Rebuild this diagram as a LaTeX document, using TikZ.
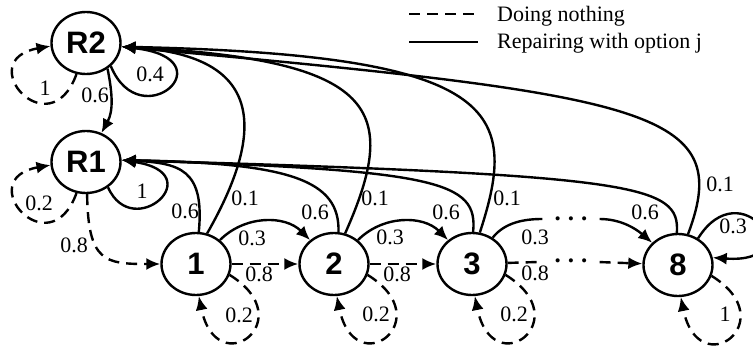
\documentclass[tikz,border=0pt]{standalone}
\usepackage{fontspec}
\setmainfont{Liberation Serif}
\setsansfont{Liberation Sans}
\usetikzlibrary{arrows.meta,shapes.geometric}

\begin{document}
\begin{tikzpicture}[x=1pt,y=-1pt,
  state/.style={ellipse,draw,line width=2.4pt,minimum width=69pt,minimum height=62pt,
    inner sep=0pt,font=\fontsize{31}{31}\selectfont\sffamily\bfseries},
  lbl/.style={inner sep=0pt,font=\fontsize{22}{22}\selectfont},
  dotsnode/.style={inner xsep=12pt,inner ysep=0pt,font=\fontsize{25}{25}\selectfont\bfseries},
  wire/.style={line width=2.4pt},
  tip/.style={-{Latex[length=14pt,width=12pt]}},
  rep/.style={wire,tip},
  idlewire/.style={wire,dash pattern=on 11pt off 7pt},
  idle/.style={idlewire,tip},
]
\path[use as bounding box] (0,0) rectangle (753,350);
\clip (0,0) rectangle (753,350);
\fill[white] (0,0) rectangle (753,350);

% states
\node[state] (R2) at (86,43) {R2};
\node[state] (R1) at (86,162) {R1};
\node[state] (n1) at (196,264) {1};
\node[state] (n2) at (334,264) {2};
\node[state] (n3) at (472,264) {3};
\node[state] (n8) at (678,265) {8};
\node[dotsnode] (d1) at (571,219) {.\hspace{7pt}.\hspace{7pt}.};
\node[dotsnode] (d2) at (571,261) {.\hspace{7pt}.\hspace{7pt}.};

% legend
\coordinate (lgA) at (409,14);
\coordinate (lgB) at (478,14);
\coordinate (lgC) at (409,42);
\coordinate (lgD) at (478,42);
\draw[idlewire] (lgA) -- (lgB);
\draw[wire] (lgC) -- (lgD);
\node[lbl,anchor=base west] (lgT1) at (497,22) {Doing nothing};
\node[lbl,anchor=base west] (lgT2) at (497,49) {Repairing with option j};

% doing nothing
\draw[idle] (R2.253) .. controls +(-27,75) and +(-79,14) .. (R2.185);
\draw[idle] (R1.253) .. controls +(-27,75) and +(-79,14) .. (R1.185);
\draw[idle] (R1.-88) .. controls (88,262) and (105,264) .. (n1);
\draw[idle] (n1) -- (n2);
\draw[idle] (n2) -- (n3);
\draw[idlewire] (n3) -- (d2);
\draw[idle] (d2) -- (n8);
\draw[idle] (n1.-18) .. controls +(73,45) and +(18,88) .. (n1.-85);
\draw[idle] (n2.-18) .. controls +(73,45) and +(18,88) .. (n2.-85);
\draw[idle] (n3.-18) .. controls +(73,45) and +(18,88) .. (n3.-85);
\draw[idle] (n8.-18) .. controls +(73,45) and +(18,88) .. (n8.-85);

% repairing
\draw[rep] (R2.-50) .. controls +(5,25) and +(12,-22) .. (R1.62);
\draw[rep] (R2.-43) .. controls +(30,72) and +(108,12) .. (R2.-6);
\draw[rep] (R1.-49) .. controls +(25,56) and +(90,13) .. (R1.3);

\draw[rep] (n1.85) .. controls +(6,-63) and +(58,3) .. (R1.3);
\draw[rep] (n2.82) .. controls (340,180) and (290,163) .. (R1.3);
\draw[rep] (n3.88) .. controls (478,182) and (440,170) .. (R1.3);
\draw[rep] (n8.92) .. controls (680,185) and (640,175) .. (R1.3);

\draw[rep] (n1.70) .. controls (272,120) and (255,55) .. (R2.-6);
\draw[rep] (n2.70) .. controls (400,110) and (380,60) .. (R2.-6);
\draw[rep] (n3.76) .. controls (520,110) and (500,55) .. (R2.-6);
\draw[rep] (n8.72) .. controls (735,110) and (650,95) .. (R2.-6);

\draw[rep] (n1) .. controls (245,215) and (285,215) .. (n2);
\draw[rep] (n2) .. controls (383,215) and (423,215) .. (n3);
\draw[wire] (n3) .. controls (505,222) and (525,219) .. (d1.west);
\draw[rep] (d1.east) .. controls (620,219) and (635,228) .. (n8);
\draw[rep] (n8.53) .. controls +(43,-69) and +(98,7) .. (n8.12);

% probabilities
\node[lbl] (p01) at (45,88) {1};
\node[lbl] (p02) at (150,74) {0.4};
\node[lbl] (p03) at (95,95) {0.6};
\node[lbl] (p04) at (39,203) {0.2};
\node[lbl] (p05) at (142,191) {1};
\node[lbl] (p06) at (74,245) {0.8};
\node[lbl] (p07) at (185,211) {0.6};
\node[lbl] (p08) at (245,198) {0.1};
\node[lbl] (p09) at (252,238) {0.3};
\node[lbl] (p10) at (259,274) {0.8};
\node[lbl] (p11) at (239,315) {0.2};
\node[lbl] (p12) at (315,212) {0.6};
\node[lbl] (p13) at (375,198) {0.1};
\node[lbl] (p14) at (390,237) {0.3};
\node[lbl] (p15) at (397,274) {0.8};
\node[lbl] (p16) at (376,314) {0.2};
\node[lbl] (p17) at (446,212) {0.6};
\node[lbl] (p18) at (507,198) {0.1};
\node[lbl] (p19) at (535,237) {0.3};
\node[lbl] (p20) at (535,273) {0.8};
\node[lbl] (p21) at (514,314) {0.2};
\node[lbl] (p22) at (645,212) {0.6};
\node[lbl] (p23) at (720,184) {0.1};
\node[lbl] (p24) at (733,226) {0.3};
\node[lbl] (p25) at (725,314) {1};
\end{tikzpicture}
\end{document}
